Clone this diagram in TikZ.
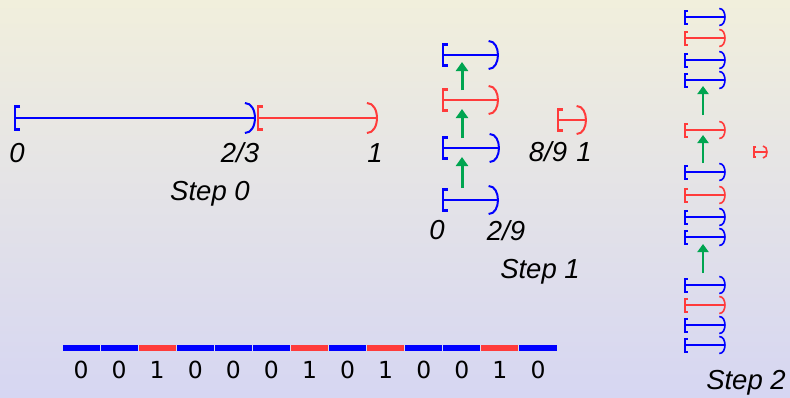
\documentclass[tikz,border=0pt]{standalone}
\usepackage{fontspec}
\setmainfont{Liberation Sans}
\newfontfamily\digitfont{DejaVu Sans}
\usetikzlibrary{arrows.meta}
\definecolor{bgtop}{RGB}{241,239,220}
\definecolor{bgbot}{RGB}{214,214,242}
\definecolor{ivblue}{RGB}{0,0,255}
\definecolor{ivred}{RGB}{255,59,59}
\definecolor{ivgreen}{RGB}{0,165,80}
\tikzset{
  uparrow/.style={ivgreen, line width=3pt, -{Triangle[width=12pt,length=9pt]}},
  smallarrow/.style={ivgreen, line width=2.6pt, -{Triangle[width=11pt,length=8pt]}},
  lbl/.style={font=\fontsize{27.5}{32}\selectfont\itshape, inner sep=0pt},
  digit/.style={font=\fontsize{23.5}{28}\selectfont\digitfont, inner sep=0pt},
}
% interval: x1, x2, y, bracket half height, paren half height, colour, line width
\newcommand\ivl[7]{%
  \draw[#6, line width=#7] (#1,#3) -- (#2,#3);
  \draw[#6, line width=#7*1.25] ({#1+0.45*#4},{#3-#4}) -- (#1,{#3-#4}) -- (#1,{#3+#4}) -- ({#1+0.45*#4},{#3+#4});
  \draw[#6, line width=#7] ({#2-0.67*#5},{#3-#5}) .. controls ({#2+0.22*#5},{#3-#5}) and ({#2+0.22*#5},{#3+#5}) .. ({#2-0.67*#5},{#3+#5});
}
\begin{document}
\begin{tikzpicture}[x=1pt,y=-1pt]
\useasboundingbox (0,0) rectangle (790,397);
\shade[top color=bgtop, bottom color=bgbot] (0,0) rectangle (790,397);

% ---- Step 0
\ivl{15}{255}{118}{11.5}{15}{ivblue}{2pt}
\ivl{258}{377}{118}{11.5}{15}{ivred}{2pt}
\node[lbl] (s0a) at (17,153) {0};
\node[lbl] (s0b) at (240,153) {2/3};
\node[lbl] (s0c) at (375,153) {1};
\node[lbl] (s0) at (210,194) {Step 0};

% ---- Step 1
\ivl{443}{498}{55}{10.5}{14}{ivblue}{2pt}
\ivl{443}{498}{100}{10.5}{14}{ivred}{2pt}
\ivl{443}{499}{148}{10.5}{14}{ivblue}{2pt}
\ivl{443}{498}{200}{10.5}{14}{ivblue}{2pt}
\ivl{558}{586}{120}{10.5}{14}{ivred}{2pt}
\coordinate (a1s) at (462,188); \coordinate (a1e) at (462,157);
\coordinate (a2s) at (462,138); \coordinate (a2e) at (462,109);
\coordinate (a3s) at (462,90);  \coordinate (a3e) at (462,62);
\draw[uparrow] (a1s) -- (a1e);
\draw[uparrow] (a2s) -- (a2e);
\draw[uparrow] (a3s) -- (a3e);
\node[lbl] (s1a) at (437,230) {0};
\node[lbl] (s1b) at (506,231) {2/9};
\node[lbl] (s1c) at (548,152) {8/9};
\node[lbl] (s1d) at (584,152) {1};
\node[lbl] (s1) at (540,272) {Step 1};

% ---- Step 2
\foreach \yy/\cc in {17/ivblue,38/ivred,60/ivblue,80/ivblue,130/ivred,172/ivblue,195/ivred,217/ivblue,237/ivblue,285/ivblue,305/ivred,325/ivblue,345/ivblue}{
  \ivl{685}{725}{\yy}{6.5}{8.5}{\cc}{1.6pt}
}
\ivl{754}{767}{152}{5}{6}{ivred}{1.6pt}
\coordinate (b1s) at (703,115); \coordinate (b1e) at (703,86);
\coordinate (b2s) at (703,163); \coordinate (b2e) at (703,135);
\coordinate (b3s) at (703,273); \coordinate (b3e) at (703,244);
\draw[smallarrow] (b1s) -- (b1e);
\draw[smallarrow] (b2s) -- (b2e);
\draw[smallarrow] (b3s) -- (b3e);
\node[lbl] (s2) at (746,383) {Step 2};

% ---- bit bar
\foreach \b [count=\i from 0] in {0,0,1,0,0,0,1,0,1,0,0,1,0}{
  \ifnum\b=1 \def\bc{ivred}\else\def\bc{ivblue}\fi
  \fill[\bc] ({62+38.08*\i+0.5},345) rectangle ({62+38.08*(\i+1)-0.5},351);
  \node[digit] (d\i) at ({62+38.08*(\i+0.5)},370) {\b};
}
\end{tikzpicture}
\end{document}
